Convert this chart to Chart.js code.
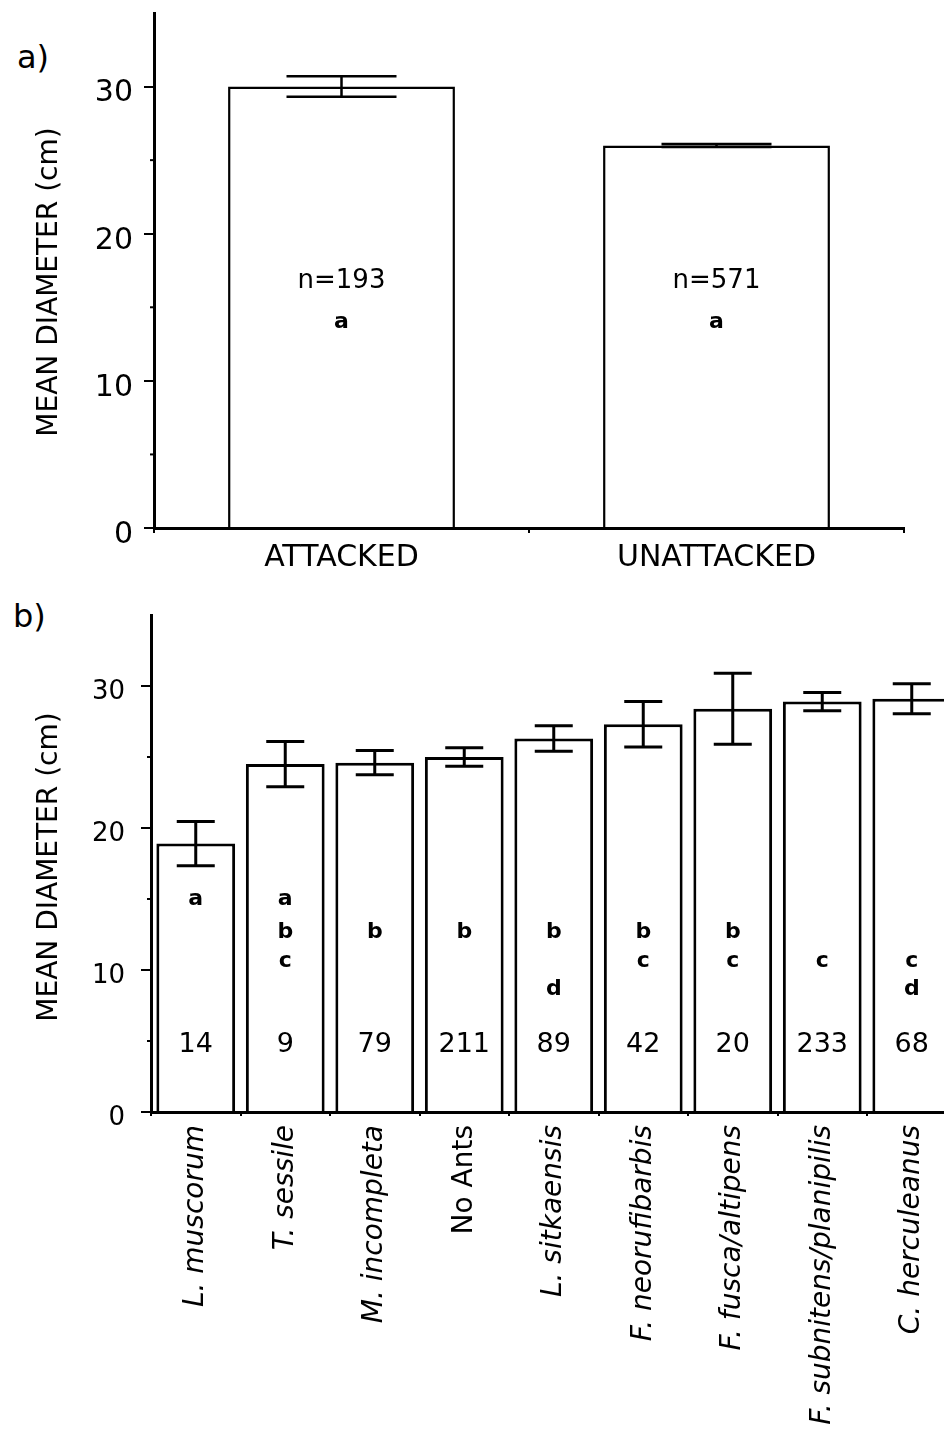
<!DOCTYPE html>
<html>
<head>
<meta charset="utf-8">
<style>
html,body{margin:0;padding:0;overflow:hidden;background:#fff;width:944px;height:1432px;position:relative;}
#ca{position:absolute;left:0;top:0;}
#cb{position:absolute;left:0;top:590px;}
.pl{position:absolute;font-family:"DejaVu Sans";font-size:32px;line-height:32px;color:#000;}
</style>
<script src="https://cdn.jsdelivr.net/npm/chart.js@4/dist/chart.umd.min.js"></script>
</head>
<body>
<div class="pl" style="left:17px;top:41px;">a)</div>
<div class="pl" style="left:13px;top:600px;">b)</div>
<canvas id="ca" width="944" height="600"></canvas>
<canvas id="cb" width="980" height="842"></canvas>
<script>
// ---- Panel a data ----
const catsA = ['ATTACKED', 'UNATTACKED'];
const meansA = [30.0, 26.0];
const errsA = [0.7, 0.1];
const nA = ['n=193', 'n=571'];
const groupsA = ['a', 'a'];

// ---- Panel b data ----
const catsB = ['L. muscorum', 'T. sessile', 'M. incompleta', 'No Ants', 'L. sitkaensis',
               'F. neorufibarbis', 'F. fusca/altipens', 'F. subnitens/planipilis', 'C. herculeanus'];
const meansB = [18.9, 24.5, 24.6, 25.0, 26.3, 27.3, 28.4, 28.9, 29.1];
const errsB = [1.55, 1.6, 0.85, 0.65, 0.9, 1.6, 2.5, 0.65, 1.05];
const nB = ['14', '9', '79', '211', '89', '42', '20', '233', '68'];
const groupsB = ['a', 'abc', 'b', 'b', 'bd', 'bc', 'bc', 'c', 'cd'];

// ---- shared axis ----
const yMin = 0, yMax = 35, yStep = 10;
const minorTicks = [5, 15, 25];
const yTitle = 'MEAN DIAMETER (cm)';

const FONT = '"DejaVu Sans"';

const errBars = {
  id: 'errbars',
  afterDatasetsDraw(chart, args, o) {
    const {ctx} = chart, y = chart.scales.y;
    const meta = chart.getDatasetMeta(0);
    const vals = chart.data.datasets[0].data;
    ctx.save();
    ctx.strokeStyle = '#000';
    ctx.lineWidth = o.lineWidth;
    ctx.lineCap = 'butt';
    meta.data.forEach((bar, i) => {
      const x = bar.x, v = vals[i], e = o.errors[i];
      const yt = y.getPixelForValue(v + e), yb = y.getPixelForValue(v - e);
      ctx.beginPath();
      ctx.moveTo(x, yt); ctx.lineTo(x, yb);
      ctx.moveTo(x - o.cap / 2, yt); ctx.lineTo(x + o.cap / 2, yt);
      ctx.moveTo(x - o.cap / 2, yb); ctx.lineTo(x + o.cap / 2, yb);
      ctx.stroke();
    });
    ctx.restore();
  }
};

const notes = {
  id: 'notes',
  afterDatasetsDraw(chart, args, o) {
    const {ctx} = chart, y = chart.scales.y;
    const meta = chart.getDatasetMeta(0);
    ctx.save();
    ctx.fillStyle = '#000';
    ctx.textAlign = 'center';
    ctx.textBaseline = 'alphabetic';
    meta.data.forEach((bar, i) => {
      const x = bar.x;
      ctx.font = o.nFont;
      ctx.fillText(o.n[i], x, y.getPixelForValue(o.nRow));
      ctx.font = o.gFont;
      for (const ch of o.groups[i]) {
        ctx.fillText(ch, x, y.getPixelForValue(o.rows[ch]));
      }
    });
    ctx.restore();
  }
};

const axisExtras = {
  id: 'axisExtras',
  afterDraw(chart, args, o) {
    const {ctx, chartArea} = chart, y = chart.scales.y;
    ctx.save();
    ctx.strokeStyle = '#000';
    ctx.lineWidth = 2;
    minorTicks.forEach(v => {
      const py = y.getPixelForValue(v);
      ctx.beginPath();
      ctx.moveTo(chartArea.left - o.minorLen, py);
      ctx.lineTo(chartArea.left, py);
      ctx.stroke();
    });
    // y-axis title
    ctx.fillStyle = '#000';
    ctx.font = o.titleFont;
    ctx.textAlign = 'center';
    ctx.textBaseline = 'alphabetic';
    ctx.translate(o.titleX, o.titleY);
    ctx.rotate(-Math.PI / 2);
    ctx.fillText(yTitle, 0, 0);
    ctx.restore();
  }
};

function zeroPad(s) { s.paddingLeft = 0; s.paddingRight = 0; s.paddingTop = 0; s.paddingBottom = 0; }

// ---- Panel a ----
new Chart(document.getElementById('ca'), {
  type: 'bar',
  data: {
    labels: catsA,
    datasets: [{
      data: meansA,
      backgroundColor: '#fff',
      borderColor: '#000',
      borderWidth: 2.5,
      borderSkipped: 'start',
      barPercentage: 0.605,
      categoryPercentage: 1
    }]
  },
  options: {
    responsive: false,
    devicePixelRatio: 1,
    animation: false,
    layout: {padding: {top: 13, right: 40, left: 0, bottom: 0}},
    plugins: {
      legend: {display: false},
      tooltip: {enabled: false},
      errbars: {errors: errsA, cap: 110, lineWidth: 2.5},
      notes: {n: nA, groups: groupsA, nRow: 16.3, rows: {a: 13.6},
              nFont: '26px ' + FONT, gFont: 'bold 22px ' + FONT},
      axisExtras: {minorLen: 4, titleFont: '28px ' + FONT, titleX: 57, titleY: 282}
    },
    scales: {
      x: {
        grid: {display: true, drawOnChartArea: false, drawTicks: true, tickLength: 5, color: '#000', lineWidth: 2},
        border: {display: true, color: '#000', width: 3},
        ticks: {color: '#000', font: {family: 'DejaVu Sans', size: 30}, padding: 7,
                maxRotation: 0, minRotation: 0, autoSkip: false},
        afterFit(s) { s.height = 72; zeroPad(s); }
      },
      y: {
        min: yMin, max: yMax,
        ticks: {stepSize: yStep, includeBounds: false, color: '#000',
                font: {family: 'DejaVu Sans', size: 30}, padding: 11, labelOffset: 7},
        grid: {drawOnChartArea: false, drawTicks: true, tickLength: 10, color: '#000', lineWidth: 2},
        border: {display: true, color: '#000', width: 3},
        afterFit(s) { s.width = 154; zeroPad(s); }
      }
    }
  },
  plugins: [errBars, notes, axisExtras]
});

// ---- Panel b ----
new Chart(document.getElementById('cb'), {
  type: 'bar',
  data: {
    labels: catsB,
    datasets: [{
      data: meansB,
      backgroundColor: '#fff',
      borderColor: '#000',
      borderWidth: 3,
      borderSkipped: 'start',
      barPercentage: 0.88,
      categoryPercentage: 1
    }]
  },
  options: {
    responsive: false,
    devicePixelRatio: 1,
    animation: false,
    layout: {padding: {top: 25, right: 23.5, left: 0, bottom: 0}},
    plugins: {
      legend: {display: false},
      tooltip: {enabled: false},
      errbars: {errors: errsB, cap: 38, lineWidth: 3},
      notes: {n: nB, groups: groupsB, nRow: 4.23,
              rows: {a: 14.6, b: 12.28, c: 10.23, d: 8.26},
              nFont: '27px ' + FONT, gFont: 'bold 22px ' + FONT},
      axisExtras: {minorLen: 4, titleFont: '28px ' + FONT, titleX: 57, titleY: 277}
    },
    scales: {
      x: {
        grid: {display: true, drawOnChartArea: false, drawTicks: true, tickLength: 4, color: '#000', lineWidth: 2},
        border: {display: true, color: '#000', width: 3},
        ticks: {
          color: '#000',
          font: (c) => ({family: 'DejaVu Sans', size: 28,
                         style: (catsB[c.index] === 'No Ants') ? 'normal' : 'italic'}),
          padding: 9, maxRotation: 90, minRotation: 90, autoSkip: false
        },
        afterFit(s) { s.height = 320; zeroPad(s); }
      },
      y: {
        min: yMin, max: yMax,
        ticks: {stepSize: yStep, includeBounds: false, color: '#000',
                font: {family: 'DejaVu Sans', size: 26}, padding: 16, labelOffset: 6},
        grid: {drawOnChartArea: false, drawTicks: true, tickLength: 10, color: '#000', lineWidth: 2},
        border: {display: true, color: '#000', width: 3},
        afterFit(s) { s.width = 151; zeroPad(s); }
      }
    }
  },
  plugins: [errBars, notes, axisExtras]
});
</script>
</body>
</html>
